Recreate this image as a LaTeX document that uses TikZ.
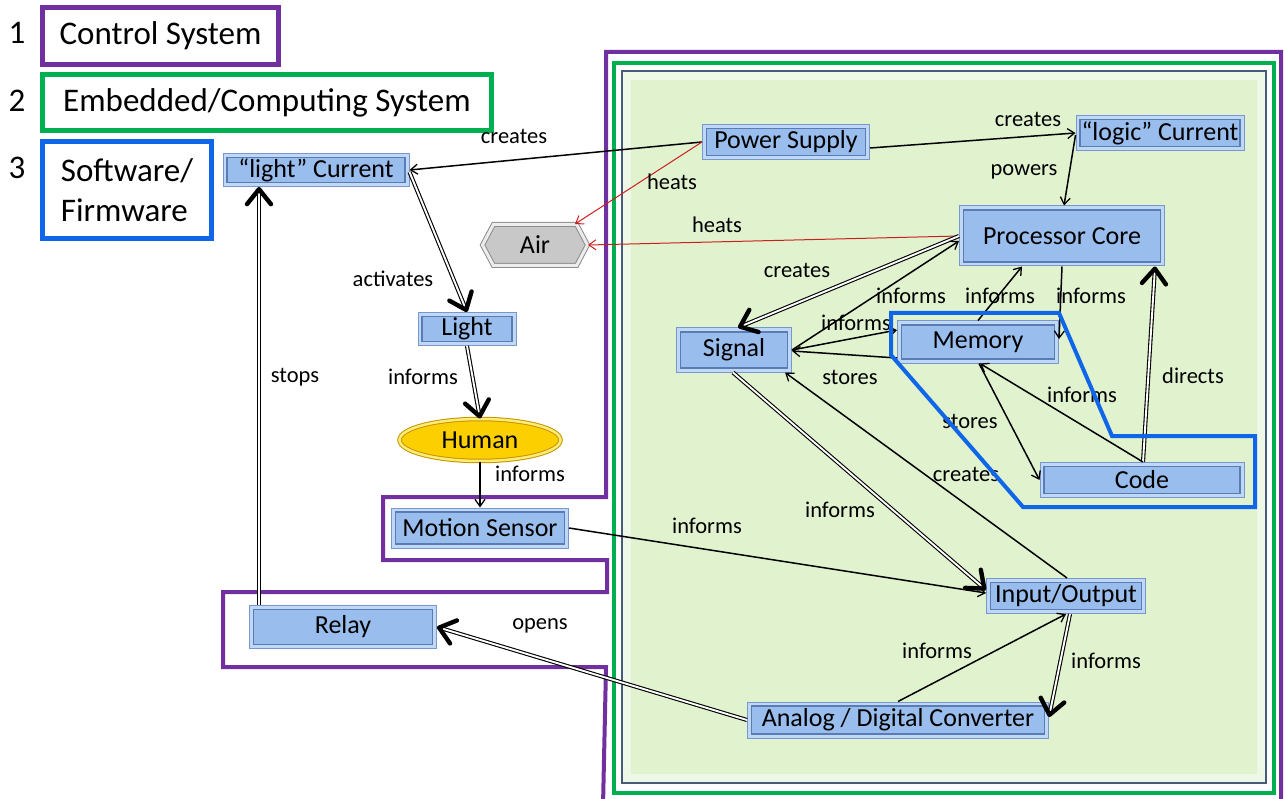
\documentclass[tikz,border=0pt]{standalone}
\usepackage{fontspec}
\setmainfont{Carlito}
\usetikzlibrary{arrows.meta,shapes.geometric,shapes.symbols}

\definecolor{ctlpurple}{RGB}{112,48,160}
\definecolor{embgreen}{RGB}{0,176,80}
\definecolor{swblue}{RGB}{16,102,232}
\definecolor{panelfill}{RGB}{225,242,207}
\definecolor{panelband}{RGB}{238,248,230}
\definecolor{paneledge}{RGB}{72,92,122}
\definecolor{boxfill}{RGB}{153,189,236}
\definecolor{boxrim}{RGB}{192,215,246}
\definecolor{boxedge}{RGB}{118,152,205}
\definecolor{boxinner}{RGB}{90,124,180}
\definecolor{heatred}{RGB}{205,30,30}
\definecolor{airfill}{RGB}{200,200,200}
\definecolor{airrim}{RGB}{236,236,236}
\definecolor{airedge}{RGB}{140,140,140}
\definecolor{humanfill}{RGB}{252,208,0}
\definecolor{humanrim}{RGB}{255,236,120}
\definecolor{humanedge}{RGB}{196,150,0}

\newcommand\boxfont{\fontsize{26}{30}\selectfont}
\newcommand\lblfont{\fontsize{22.5}{26}\selectfont}
\newcommand\legfont{\fontsize{33}{40}\selectfont}

\tikzset{
  bluebox/.style={rectangle, draw=boxedge, line width=1pt, fill=boxrim,
    inner sep=0pt, font=\boxfont,
    path picture={
      \fill[boxfill] ([shift={(4pt,-4pt)}]path picture bounding box.north west)
        rectangle ([shift={(-4pt,4pt)}]path picture bounding box.south east);
      \draw[boxinner, line width=1.2pt] ([shift={(4pt,-4pt)}]path picture bounding box.north west)
        rectangle ([shift={(-4pt,4pt)}]path picture bounding box.south east);
    }},
  legendbox/.style={rectangle, line width=5pt, inner sep=0pt, font=\legfont, anchor=north west},
  link/.style={draw=black, line width=1.5pt,
    -{Straight Barb[length=7pt,width=10pt,line width=1.3pt]}},
  heat/.style={draw=heatred, line width=1pt,
    -{Straight Barb[length=7pt,width=10pt,line width=1pt]}},
  dblline/.style={draw=black, line width=1.1pt, double=white, double distance=1.9pt,
    shorten >=2pt},
  dbltip/.style={draw=white, line width=0.4pt,
    -{Straight Barb[length=15pt,width=24pt,line width=4.4pt,round,color=black]}},
  lbl/.style={font=\lblfont, inner sep=0pt},
}

% double-line relation with a heavy open arrow head
\newcommand\dbarrow[2]{\draw[dblline] #1 -- #2; \draw[dbltip] #1 -- #2;}

\begin{document}
\begin{tikzpicture}[x=1pt, y=-1pt]
\useasboundingbox (0,0) rectangle (1284,799);

% ---- legend ----
\node[font=\legfont] (n1) at (17,33) {1};
\node[font=\legfont] (n2) at (17,101) {2};
\node[font=\legfont] (n3) at (17,168) {3};
\node[legendbox, draw=ctlpurple, minimum width=236pt, minimum height=57pt] (leg1) at (40,5) {Control System};
\node[legendbox, draw=embgreen, minimum width=449pt, minimum height=56pt] (leg2) at (40,72) {Embedded/Computing System};
\node[legendbox, draw=swblue, minimum width=169pt, minimum height=97pt, align=left] (leg3) at (40,139) {Software/\\Firmware};

% ---- embedded system panel ----
\fill[panelband] (622,71) rectangle (1266,783);
\fill[panelfill] (631,80) rectangle (1257,774);
\draw[paneledge, line width=2pt] (622,71) rectangle (1266,783);
\draw[embgreen, line width=4pt] (614,63) rectangle (1274,793);

% ---- control system outline ----
\draw[ctlpurple, line width=4pt, line join=miter]
  (606,52) -- (1281,52) -- (1281,806) -- (603,806) -- (606,667) -- (223,667)
  -- (223,592) -- (607,592) -- (607,560) -- (383,560) -- (383,497) -- (606,497) -- cycle;

% ---- components ----
\node[bluebox, minimum width=186pt, minimum height=33pt] (lightcur) at (316,170) {“light” Current};
\node[bluebox, minimum width=167pt, minimum height=35pt] (power) at (786,142) {Power Supply};
\node[bluebox, minimum width=168pt, minimum height=35pt] (logiccur) at (1160,133) {“logic” Current};
\node[bluebox, minimum width=205pt, minimum height=60pt] (proc) at (1062,236) {Processor Core};
\node[bluebox, minimum width=115pt, minimum height=44pt] (sig) at (734,350) {Signal};
\node[bluebox, minimum width=161pt, minimum height=42pt] (memory) at (978,342) {Memory};
\node[bluebox, minimum width=204pt, minimum height=35pt] (code) at (1142,480) {Code};
\node[bluebox, minimum width=159pt, minimum height=35pt] (io) at (1066,596) {Input/Output};
\node[bluebox, minimum width=301pt, minimum height=36pt] (adc) at (898,720) {Analog / Digital Converter};
\node[bluebox, minimum width=98pt, minimum height=33pt] (light) at (467,329) {Light};
\node[bluebox, minimum width=177pt, minimum height=40pt] (motion) at (480,528) {Motion Sensor};
\node[bluebox, minimum width=187pt, minimum height=43pt] (relay) at (343,627) {Relay};
\node[shape=signal, signal to=west and east, signal pointer angle=124,
  minimum width=105pt, minimum height=41pt, fill=airfill, draw=airedge,
  double=airrim, double distance=3pt, line width=1pt, font=\boxfont, inner sep=0pt]
  (air) at (535,245) {Air};
\node[ellipse, minimum width=161pt, minimum height=42pt, fill=humanfill, draw=humanedge,
  double=humanrim, double distance=2.5pt, line width=1pt, font=\boxfont, inner sep=0pt]
  (human) at (480,440) {Human};

% ---- relations ----
\draw[link] (power.west) -- (lightcur.east);
\draw[heat] (power.west) -- ([xshift=40pt]air.north);
\draw[heat] (proc.west) -- (air.east);
\draw[link] ([yshift=-6pt]power.east) -- (logiccur.west);
\draw[link] ([yshift=-2pt]logiccur.west) -- ([xshift=2pt]proc.north);
\dbarrow{(proc.west)}{([xshift=4pt]sig.north)}
\draw[link] (sig.east) -- ([yshift=-5pt]proc.west);
\draw[link] (sig.east) -- ([yshift=12pt]memory.west);
\draw[link] ([yshift=-16pt]memory.west) -- ([yshift=-1pt]sig.east);
\draw[link] (memory.north) -- ([xshift=-40pt]proc.south);
\draw[link] (proc.south) -- ([yshift=3pt]memory.east);
\dbarrow{([xshift=1pt]code.north)}{([xshift=93pt]proc.south)}
\draw[link] ([xshift=1pt]code.north) -- ([xshift=2pt]memory.south);
\draw[link] ([xshift=1pt]memory.south) -- (code.west);
\dbarrow{([xshift=-1pt]sig.south)}{([yshift=6pt]io.west)}
\draw[link] ([xshift=1pt]io.north) -- ([xshift=51pt]sig.south);
\draw[link] (motion.east) -- ([yshift=3pt]io.west);
\draw[link] (adc.north) -- (io.south);
\dbarrow{([xshift=4pt]io.south)}{([yshift=3pt]adc.east)}
\dbarrow{(adc.west)}{(relay.east)}
\dbarrow{([xshift=-84pt]relay.north)}{([xshift=-57pt]lightcur.south)}
\dbarrow{([yshift=-2pt]lightcur.east)}{(light.north)}
\dbarrow{(light.south)}{(human.north)}
\draw[link] (human.south) -- (motion.north);

% ---- relation labels ----
\node[lbl] (t1) at (514,136) {creates};
\node[lbl] (t2) at (672,182) {heats};
\node[lbl] (t3) at (717,225) {heats};
\node[lbl] (t4) at (1028,119) {creates};
\node[lbl] (t5) at (1024,172) {powers};
\node[lbl] (t6) at (797,270) {creates};
\node[lbl] (t7) at (911,296) {informs};
\node[lbl] (t8) at (856,323) {informs};
\node[lbl] (t9) at (1000,296) {informs};
\node[lbl] (t10) at (1091,296) {informs};
\node[lbl] (t11) at (850,377) {stores};
\node[lbl] (t12) at (1082,395) {informs};
\node[lbl] (t13) at (970,421) {stores};
\node[lbl] (t14) at (1193,376) {directs};
\node[lbl] (t15) at (966,474) {creates};
\node[lbl] (t16) at (840,510) {informs};
\node[lbl] (t17) at (707,526) {informs};
\node[lbl] (t18) at (937,651) {informs};
\node[lbl] (t19) at (1106,661) {informs};
\node[lbl] (t20) at (540,626) {opens};
\node[lbl] (t21) at (295,377) {stops};
\node[lbl] (t22) at (393,279) {activates};
\node[lbl] (t23) at (423,377) {informs};
\node[lbl] (t24) at (530,474) {informs};

% ---- software / firmware outline ----
\draw[swblue, line width=4pt, line join=miter]
  (891,313) -- (1059,313) -- (1112,436) -- (1255,436) -- (1255,507) -- (1023,507) -- (891,355) -- cycle;

\end{tikzpicture}
\end{document}
